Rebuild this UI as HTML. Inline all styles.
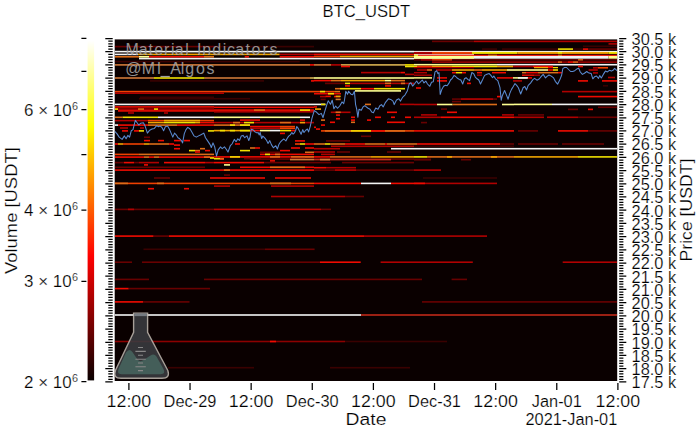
<!DOCTYPE html><html><head><meta charset="utf-8"><style>html,body{margin:0;padding:0;background:#fff;width:700px;height:434px;overflow:hidden}svg{display:block}text{font-family:"Liberation Sans",sans-serif;fill:#000;}text.a{stroke:#fff;stroke-width:0.2px}</style></head><body>
<svg width="700" height="434" viewBox="0 0 700 434">
<defs><clipPath id="pc"><rect x="114.70" y="39.40" width="502.50" height="341.60"/></clipPath>
<linearGradient id="hot" x1="0" y1="1" x2="0" y2="0"><stop offset="0" stop-color="#0a0000"/><stop offset="0.365" stop-color="#ff0000"/><stop offset="0.746" stop-color="#ffff00"/><stop offset="1" stop-color="#ffffff"/></linearGradient></defs>
<rect x="114.7" y="39.4" width="502.50" height="341.60" fill="#0a0000"/>
<g clip-path="url(#pc)" shape-rendering="auto">
<rect x="114.7" y="45.80" width="99.3" height="1.6" fill="#680000"/>
<rect x="114.7" y="50.80" width="99.3" height="1.6" fill="#f4f4f4"/>
<rect x="114.7" y="53.60" width="23.3" height="1.6" fill="#f4f4f4"/>
<rect x="138.0" y="53.60" width="76.0" height="1.6" fill="#f0a400"/>
<rect x="114.7" y="56.00" width="24.3" height="1.6" fill="#dc6c18"/>
<rect x="139.0" y="56.00" width="10.0" height="1.6" fill="#ffff90"/>
<rect x="149.0" y="56.00" width="55.0" height="1.6" fill="#f00a00"/>
<rect x="204.0" y="56.00" width="10.0" height="1.6" fill="#dc6c18"/>
<rect x="139.0" y="57.80" width="75.0" height="1.6" fill="#f4f4f4"/>
<rect x="114.7" y="60.80" width="99.3" height="1.6" fill="#3a0000"/>
<rect x="114.7" y="64.10" width="99.3" height="1.6" fill="#d07838"/>
<rect x="114.7" y="77.20" width="39.3" height="1.6" fill="#d07838"/>
<rect x="154.0" y="77.20" width="50.7" height="1.6" fill="#f0e000"/>
<rect x="204.7" y="77.20" width="9.3" height="1.6" fill="#d07838"/>
<rect x="150.0" y="80.10" width="64.0" height="1.6" fill="#3a0000"/>
<rect x="114.7" y="90.80" width="99.3" height="1.6" fill="#f04000"/>
<rect x="114.7" y="92.40" width="99.3" height="1.6" fill="#b00000"/>
<rect x="140.0" y="96.50" width="74.0" height="1.6" fill="#3a0000"/>
<rect x="214.0" y="45.80" width="100.0" height="1.6" fill="#3a0000"/>
<rect x="214.0" y="50.80" width="100.0" height="1.6" fill="#f4f4f4"/>
<rect x="214.0" y="53.60" width="65.7" height="1.6" fill="#f0a400"/>
<rect x="279.7" y="53.60" width="34.3" height="1.6" fill="#b00000"/>
<rect x="244.7" y="56.00" width="4.3" height="1.6" fill="#f00a00"/>
<rect x="279.7" y="56.00" width="34.3" height="1.6" fill="#f00a00"/>
<rect x="214.0" y="57.80" width="100.0" height="1.6" fill="#f4f4f4"/>
<rect x="214.0" y="60.80" width="85.7" height="1.6" fill="#3a0000"/>
<rect x="214.0" y="64.10" width="96.0" height="1.6" fill="#d07838"/>
<rect x="310.0" y="64.10" width="4.0" height="1.6" fill="#f00a00"/>
<rect x="214.0" y="77.20" width="96.0" height="1.6" fill="#d07838"/>
<rect x="310.0" y="77.20" width="4.0" height="1.6" fill="#d8b050"/>
<rect x="214.0" y="80.10" width="50.0" height="1.6" fill="#3a0000"/>
<rect x="311.0" y="80.10" width="3.0" height="1.6" fill="#f00a00"/>
<rect x="214.0" y="90.80" width="100.0" height="1.6" fill="#f04000"/>
<rect x="214.0" y="92.40" width="10.0" height="1.6" fill="#b00000"/>
<rect x="214.0" y="97.90" width="36.0" height="1.6" fill="#3a0000"/>
<rect x="314.0" y="50.80" width="100.0" height="1.6" fill="#f4f4f4"/>
<rect x="314.0" y="53.60" width="100.0" height="1.6" fill="#f00a00"/>
<rect x="314.0" y="55.70" width="26.0" height="1.6" fill="#f04000"/>
<rect x="340.0" y="55.70" width="74.0" height="1.6" fill="#f0a400"/>
<rect x="314.0" y="57.80" width="100.0" height="1.6" fill="#f4f4f4"/>
<rect x="314.0" y="64.10" width="17.0" height="1.6" fill="#d07838"/>
<rect x="331.0" y="64.10" width="10.0" height="1.6" fill="#b00000"/>
<rect x="341.0" y="64.10" width="64.0" height="1.6" fill="#d8b050"/>
<rect x="405.0" y="64.10" width="9.0" height="1.6" fill="#f0e000"/>
<rect x="341.0" y="65.70" width="9.0" height="1.6" fill="#f00a00"/>
<rect x="405.0" y="65.70" width="9.0" height="1.6" fill="#f0e000"/>
<rect x="361.0" y="71.80" width="40.0" height="1.6" fill="#b00000"/>
<rect x="401.0" y="71.80" width="4.0" height="1.6" fill="#f00a00"/>
<rect x="405.0" y="73.60" width="9.0" height="1.6" fill="#b00000"/>
<rect x="314.0" y="77.20" width="100.0" height="1.6" fill="#ffff90"/>
<rect x="314.0" y="79.80" width="17.0" height="1.6" fill="#f00a00"/>
<rect x="331.0" y="79.80" width="10.0" height="1.6" fill="#dc6c18"/>
<rect x="341.0" y="79.80" width="44.0" height="1.6" fill="#f0a400"/>
<rect x="385.0" y="79.80" width="6.0" height="1.6" fill="#ffff90"/>
<rect x="391.0" y="79.80" width="14.0" height="1.6" fill="#dc6c18"/>
<rect x="325.0" y="82.60" width="20.0" height="1.6" fill="#680000"/>
<rect x="345.0" y="82.60" width="5.0" height="1.6" fill="#f0e000"/>
<rect x="350.0" y="82.60" width="64.0" height="1.6" fill="#b00000"/>
<rect x="385.0" y="82.60" width="6.0" height="1.6" fill="#dc6c18"/>
<rect x="401.0" y="82.60" width="4.0" height="1.6" fill="#dc6c18"/>
<rect x="345.0" y="85.10" width="5.0" height="1.6" fill="#f00a00"/>
<rect x="385.0" y="85.10" width="6.0" height="1.6" fill="#f00a00"/>
<rect x="335.0" y="87.90" width="5.0" height="1.6" fill="#dc6c18"/>
<rect x="340.0" y="87.90" width="21.0" height="1.6" fill="#f0e000"/>
<rect x="361.0" y="87.90" width="13.0" height="1.6" fill="#f00a00"/>
<rect x="374.0" y="87.90" width="31.0" height="1.6" fill="#f0e000"/>
<rect x="355.0" y="90.10" width="46.0" height="1.6" fill="#ffff90"/>
<rect x="314.0" y="90.80" width="21.0" height="1.6" fill="#f04000"/>
<rect x="320.0" y="90.80" width="5.0" height="1.6" fill="#f0e000"/>
<rect x="335.0" y="90.80" width="5.0" height="1.6" fill="#dc6c18"/>
<rect x="314.0" y="92.90" width="27.0" height="1.6" fill="#f00a00"/>
<rect x="328.0" y="92.90" width="6.0" height="1.6" fill="#f0e000"/>
<rect x="320.0" y="95.80" width="6.0" height="1.6" fill="#b00000"/>
<rect x="334.0" y="95.80" width="6.0" height="1.6" fill="#f00a00"/>
<rect x="432.0" y="40.60" width="42.0" height="1.6" fill="#680000"/>
<rect x="474.0" y="40.60" width="143.2" height="1.6" fill="#b00000"/>
<rect x="608.5" y="43.10" width="8.5" height="1.6" fill="#b00000"/>
<rect x="583.0" y="45.50" width="34.0" height="1.6" fill="#3a0000"/>
<rect x="482.0" y="48.30" width="15.0" height="1.6" fill="#3a0000"/>
<rect x="502.0" y="48.30" width="32.0" height="1.6" fill="#3a0000"/>
<rect x="534.0" y="48.30" width="24.0" height="1.6" fill="#3a0000"/>
<rect x="558.0" y="48.30" width="15.0" height="1.6" fill="#f0e000"/>
<rect x="573.0" y="48.30" width="10.0" height="1.6" fill="#3a0000"/>
<rect x="583.0" y="48.30" width="5.0" height="1.6" fill="#f00a00"/>
<rect x="588.0" y="48.30" width="29.0" height="1.6" fill="#680000"/>
<rect x="414.0" y="50.90" width="203.2" height="1.2" fill="#f4f4f4"/>
<rect x="414.0" y="51.90" width="18.0" height="2.0" fill="#b00000"/>
<rect x="432.0" y="51.90" width="40.0" height="2.0" fill="#f04000"/>
<rect x="472.0" y="51.90" width="2.0" height="2.0" fill="#f0e000"/>
<rect x="474.0" y="51.90" width="43.3" height="2.0" fill="#f0e000"/>
<rect x="517.3" y="51.90" width="40.7" height="2.0" fill="#f0a400"/>
<rect x="558.0" y="51.90" width="4.0" height="2.0" fill="#f0e000"/>
<rect x="562.0" y="51.90" width="46.5" height="2.0" fill="#f0a400"/>
<rect x="608.5" y="51.90" width="8.7" height="2.0" fill="#f0e000"/>
<rect x="414.0" y="54.10" width="60.0" height="1.0" fill="#f4f4f4"/>
<rect x="414.0" y="54.70" width="4.0" height="1.6" fill="#f0e000"/>
<rect x="418.0" y="54.70" width="199.2" height="1.6" fill="#f00a00"/>
<rect x="488.0" y="54.70" width="9.0" height="1.6" fill="#dc6c18"/>
<rect x="558.0" y="54.70" width="4.0" height="1.6" fill="#dc6c18"/>
<rect x="414.0" y="55.90" width="194.5" height="2.8" fill="#f4f4f4"/>
<rect x="608.5" y="55.90" width="8.7" height="2.8" fill="#ffff90"/>
<rect x="414.0" y="55.90" width="60.0" height="2.8" fill="#ffff90"/>
<rect x="414.0" y="59.10" width="203.2" height="1.4" fill="#680000"/>
<rect x="421.0" y="59.10" width="11.0" height="1.4" fill="#b00000"/>
<rect x="432.0" y="59.10" width="20.0" height="1.4" fill="#f04000"/>
<rect x="578.0" y="59.10" width="5.0" height="1.4" fill="#dc6c18"/>
<rect x="432.0" y="61.40" width="185.2" height="1.4" fill="#b00000"/>
<rect x="558.0" y="61.40" width="4.0" height="1.4" fill="#dc6c18"/>
<rect x="568.0" y="61.40" width="5.0" height="1.4" fill="#f00a00"/>
<rect x="573.0" y="61.40" width="5.0" height="1.4" fill="#dc6c18"/>
<rect x="414.0" y="63.90" width="83.0" height="1.6" fill="#ffff90"/>
<rect x="497.0" y="63.90" width="120.2" height="1.6" fill="#f4f4f4"/>
<rect x="414.0" y="65.70" width="3.0" height="1.6" fill="#f0e000"/>
<rect x="417.0" y="65.70" width="15.0" height="1.6" fill="#f04000"/>
<rect x="432.0" y="65.70" width="20.0" height="1.6" fill="#f0a400"/>
<rect x="452.0" y="65.70" width="45.0" height="1.6" fill="#f0e000"/>
<rect x="497.0" y="65.70" width="16.0" height="1.6" fill="#f0a400"/>
<rect x="513.0" y="65.70" width="20.0" height="1.6" fill="#b00000"/>
<rect x="533.0" y="65.70" width="15.0" height="1.6" fill="#f00a00"/>
<rect x="548.0" y="65.70" width="5.0" height="1.6" fill="#f00a00"/>
<rect x="578.0" y="65.70" width="5.0" height="1.6" fill="#f00a00"/>
<rect x="414.0" y="66.95" width="60.0" height="1.3" fill="#b00000"/>
<rect x="534.0" y="66.95" width="14.0" height="1.3" fill="#f0a400"/>
<rect x="548.0" y="66.95" width="5.0" height="1.3" fill="#f00a00"/>
<rect x="553.0" y="66.95" width="5.0" height="1.3" fill="#f0e000"/>
<rect x="417.0" y="69.20" width="10.0" height="1.6" fill="#b00000"/>
<rect x="427.0" y="69.20" width="5.0" height="1.6" fill="#dc6c18"/>
<rect x="436.0" y="69.20" width="16.0" height="1.6" fill="#b00000"/>
<rect x="452.0" y="69.20" width="22.0" height="1.6" fill="#f0a400"/>
<rect x="474.0" y="69.20" width="8.0" height="1.6" fill="#dc6c18"/>
<rect x="482.0" y="69.20" width="25.0" height="1.6" fill="#f0a400"/>
<rect x="507.0" y="69.20" width="27.0" height="1.6" fill="#ffff90"/>
<rect x="534.0" y="69.20" width="14.0" height="1.6" fill="#ffff90"/>
<rect x="548.0" y="69.20" width="5.0" height="1.6" fill="#f00a00"/>
<rect x="553.0" y="69.20" width="5.0" height="1.6" fill="#f0e000"/>
<rect x="588.6" y="69.20" width="9.2" height="1.6" fill="#b00000"/>
<rect x="414.0" y="71.95" width="13.0" height="1.5" fill="#b00000"/>
<rect x="452.0" y="71.95" width="4.0" height="1.5" fill="#f00a00"/>
<rect x="456.0" y="71.95" width="6.0" height="1.5" fill="#f0e000"/>
<rect x="462.0" y="71.95" width="4.0" height="1.5" fill="#f00a00"/>
<rect x="477.0" y="71.95" width="5.0" height="1.5" fill="#f00a00"/>
<rect x="492.0" y="71.95" width="14.0" height="1.5" fill="#f00a00"/>
<rect x="522.0" y="71.95" width="4.0" height="1.5" fill="#dc6c18"/>
<rect x="526.0" y="71.95" width="12.0" height="1.5" fill="#f00a00"/>
<rect x="538.0" y="71.95" width="10.0" height="1.5" fill="#dc6c18"/>
<rect x="548.0" y="71.95" width="10.0" height="1.5" fill="#dc6c18"/>
<rect x="558.0" y="71.95" width="4.0" height="1.5" fill="#f00a00"/>
<rect x="414.0" y="74.50" width="18.0" height="1.4" fill="#b00000"/>
<rect x="477.0" y="74.50" width="5.0" height="1.4" fill="#b00000"/>
<rect x="522.0" y="74.50" width="12.0" height="1.4" fill="#f00a00"/>
<rect x="534.0" y="74.50" width="6.0" height="1.4" fill="#b00000"/>
<rect x="593.0" y="72.10" width="5.0" height="1.6" fill="#b00000"/>
<rect x="593.0" y="67.00" width="5.0" height="1.6" fill="#b00000"/>
<rect x="598.0" y="67.00" width="10.0" height="1.6" fill="#f04000"/>
<rect x="608.0" y="76.70" width="7.0" height="1.6" fill="#b00000"/>
<rect x="414.0" y="77.15" width="18.0" height="1.5" fill="#ffff90"/>
<rect x="437.0" y="77.15" width="10.0" height="1.5" fill="#f00a00"/>
<rect x="497.0" y="77.15" width="16.0" height="1.5" fill="#f00a00"/>
<rect x="513.0" y="77.15" width="14.0" height="1.5" fill="#ffff90"/>
<rect x="527.0" y="77.15" width="5.0" height="1.5" fill="#f00a00"/>
<rect x="518.0" y="77.15" width="10.0" height="1.5" fill="#f4f4f4"/>
<rect x="437.0" y="80.10" width="10.0" height="1.6" fill="#f00a00"/>
<rect x="513.0" y="80.10" width="9.0" height="1.6" fill="#b00000"/>
<rect x="578.0" y="80.10" width="10.0" height="1.6" fill="#f00a00"/>
<rect x="602.0" y="80.10" width="15.2" height="1.6" fill="#f00a00"/>
<rect x="467.0" y="82.60" width="4.0" height="1.6" fill="#f00a00"/>
<rect x="603.0" y="85.00" width="5.0" height="1.6" fill="#3a0000"/>
<rect x="416.0" y="87.20" width="5.0" height="1.6" fill="#f00a00"/>
<rect x="562.0" y="90.80" width="55.2" height="1.6" fill="#b00000"/>
<rect x="497.0" y="95.80" width="4.0" height="1.6" fill="#f00a00"/>
<rect x="578.0" y="95.80" width="39.2" height="1.6" fill="#f00a00"/>
<rect x="139.0" y="97.90" width="75.0" height="1.6" fill="#3a0000"/>
<rect x="114.7" y="103.60" width="99.3" height="1.6" fill="#f4f4f4"/>
<rect x="114.7" y="106.10" width="99.3" height="1.6" fill="#f00a00"/>
<rect x="114.7" y="108.30" width="99.3" height="1.6" fill="#b00000"/>
<rect x="114.7" y="108.30" width="3.3" height="1.6" fill="#f0e000"/>
<rect x="138.0" y="108.30" width="6.0" height="1.6" fill="#dc6c18"/>
<rect x="154.0" y="108.30" width="4.0" height="1.6" fill="#f0e000"/>
<rect x="118.0" y="110.10" width="96.0" height="1.6" fill="#f00a00"/>
<rect x="128.0" y="112.20" width="6.0" height="1.6" fill="#b00000"/>
<rect x="164.0" y="112.20" width="4.0" height="1.6" fill="#b00000"/>
<rect x="114.7" y="116.50" width="7.9" height="1.6" fill="#dc6c18"/>
<rect x="122.6" y="116.50" width="35.4" height="1.6" fill="#f0e000"/>
<rect x="158.0" y="116.50" width="56.0" height="1.6" fill="#f4f4f4"/>
<rect x="114.7" y="119.80" width="33.3" height="1.6" fill="#b00000"/>
<rect x="148.0" y="119.80" width="66.0" height="1.6" fill="#f04000"/>
<rect x="164.0" y="119.80" width="36.0" height="1.6" fill="#f0a400"/>
<rect x="148.0" y="121.80" width="16.0" height="1.6" fill="#f0a400"/>
<rect x="164.0" y="121.80" width="31.0" height="1.6" fill="#f0e000"/>
<rect x="195.0" y="121.80" width="5.0" height="1.6" fill="#f0a400"/>
<rect x="200.0" y="121.80" width="14.0" height="1.6" fill="#f00a00"/>
<rect x="114.7" y="124.30" width="3.3" height="1.6" fill="#f4f4f4"/>
<rect x="118.0" y="124.30" width="30.0" height="1.6" fill="#f00a00"/>
<rect x="148.0" y="124.30" width="29.0" height="1.6" fill="#dc6c18"/>
<rect x="177.0" y="124.30" width="37.0" height="1.6" fill="#f00a00"/>
<rect x="120.0" y="127.20" width="8.0" height="1.6" fill="#b00000"/>
<rect x="140.0" y="127.20" width="4.0" height="1.6" fill="#b00000"/>
<rect x="122.0" y="130.10" width="6.0" height="1.6" fill="#f00a00"/>
<rect x="134.0" y="130.10" width="5.0" height="1.6" fill="#f00a00"/>
<rect x="139.0" y="130.10" width="5.0" height="1.6" fill="#f0e000"/>
<rect x="208.0" y="130.10" width="6.0" height="1.6" fill="#f0e000"/>
<rect x="144.0" y="136.50" width="6.0" height="1.6" fill="#680000"/>
<rect x="144.0" y="139.80" width="6.0" height="1.6" fill="#f00a00"/>
<rect x="158.0" y="139.80" width="6.0" height="1.6" fill="#f00a00"/>
<rect x="174.0" y="139.80" width="7.0" height="1.6" fill="#f00a00"/>
<rect x="184.0" y="139.80" width="6.0" height="1.6" fill="#f00a00"/>
<rect x="114.7" y="143.20" width="3.3" height="1.6" fill="#f00a00"/>
<rect x="118.0" y="143.20" width="5.0" height="1.6" fill="#f0a400"/>
<rect x="123.0" y="143.20" width="21.0" height="1.6" fill="#f04000"/>
<rect x="144.0" y="143.20" width="5.0" height="1.6" fill="#f0a400"/>
<rect x="149.0" y="143.20" width="20.0" height="1.6" fill="#dc6c18"/>
<rect x="169.0" y="143.20" width="5.0" height="1.6" fill="#f00a00"/>
<rect x="174.0" y="144.30" width="6.0" height="1.6" fill="#f00a00"/>
<rect x="174.0" y="147.90" width="6.0" height="1.6" fill="#f00a00"/>
<rect x="200.0" y="147.90" width="5.0" height="1.6" fill="#dc6c18"/>
<rect x="189.0" y="149.80" width="6.0" height="1.6" fill="#f0e000"/>
<rect x="195.0" y="149.80" width="5.0" height="1.6" fill="#dc6c18"/>
<rect x="205.0" y="149.80" width="5.0" height="1.6" fill="#f00a00"/>
<rect x="195.0" y="151.20" width="5.0" height="1.6" fill="#f00a00"/>
<rect x="114.7" y="153.60" width="24.3" height="1.6" fill="#f04000"/>
<rect x="139.0" y="153.60" width="75.0" height="1.6" fill="#dc6c18"/>
<rect x="114.7" y="156.30" width="29.3" height="1.6" fill="#f00a00"/>
<rect x="144.0" y="156.30" width="5.0" height="1.6" fill="#dc6c18"/>
<rect x="149.0" y="156.30" width="5.0" height="1.6" fill="#f00a00"/>
<rect x="154.0" y="156.30" width="5.0" height="1.6" fill="#dc6c18"/>
<rect x="159.0" y="156.30" width="55.0" height="1.6" fill="#f00a00"/>
<rect x="204.0" y="156.30" width="6.0" height="1.6" fill="#dc6c18"/>
<rect x="210.0" y="157.20" width="4.0" height="1.6" fill="#f0e000"/>
<rect x="214.0" y="103.60" width="100.0" height="1.6" fill="#f4f4f4"/>
<rect x="214.0" y="106.50" width="100.0" height="1.6" fill="#f00a00"/>
<rect x="214.0" y="109.30" width="100.0" height="1.6" fill="#f00a00"/>
<rect x="254.0" y="109.30" width="11.0" height="1.6" fill="#dc6c18"/>
<rect x="300.0" y="109.30" width="10.0" height="1.6" fill="#f0e000"/>
<rect x="214.0" y="111.00" width="100.0" height="1.6" fill="#b00000"/>
<rect x="214.0" y="116.50" width="36.0" height="1.6" fill="#ffff90"/>
<rect x="250.0" y="116.50" width="10.0" height="1.6" fill="#f4f4f4"/>
<rect x="260.0" y="116.50" width="40.0" height="1.6" fill="#ffff90"/>
<rect x="300.0" y="116.50" width="10.0" height="1.6" fill="#f4f4f4"/>
<rect x="240.0" y="119.30" width="20.0" height="1.6" fill="#f00a00"/>
<rect x="300.0" y="119.30" width="5.0" height="1.6" fill="#f00a00"/>
<rect x="214.0" y="121.80" width="100.0" height="1.6" fill="#b00000"/>
<rect x="233.0" y="121.80" width="7.0" height="1.6" fill="#dc6c18"/>
<rect x="244.0" y="121.80" width="10.0" height="1.6" fill="#f0e000"/>
<rect x="280.0" y="121.80" width="11.0" height="1.6" fill="#dc6c18"/>
<rect x="300.0" y="121.80" width="5.0" height="1.6" fill="#f0a400"/>
<rect x="214.0" y="124.30" width="36.0" height="1.6" fill="#dc6c18"/>
<rect x="230.0" y="124.30" width="5.0" height="1.6" fill="#f0e000"/>
<rect x="240.0" y="124.30" width="10.0" height="1.6" fill="#f0e000"/>
<rect x="250.0" y="125.80" width="30.0" height="1.6" fill="#f00a00"/>
<rect x="280.0" y="125.80" width="15.0" height="1.6" fill="#f04000"/>
<rect x="250.0" y="127.50" width="30.0" height="1.6" fill="#b00000"/>
<rect x="280.0" y="127.50" width="15.0" height="1.6" fill="#f04000"/>
<rect x="214.0" y="129.80" width="36.0" height="1.6" fill="#f0a400"/>
<rect x="220.0" y="129.80" width="5.0" height="1.6" fill="#f0e000"/>
<rect x="230.0" y="129.80" width="5.0" height="1.6" fill="#f0e000"/>
<rect x="240.0" y="129.80" width="10.0" height="1.6" fill="#f0e000"/>
<rect x="250.0" y="129.80" width="10.0" height="1.6" fill="#f00a00"/>
<rect x="260.0" y="129.80" width="10.0" height="1.6" fill="#ffff90"/>
<rect x="270.0" y="129.80" width="10.0" height="1.6" fill="#f4f4f4"/>
<rect x="280.0" y="129.80" width="11.0" height="1.6" fill="#f0e000"/>
<rect x="291.0" y="129.80" width="4.0" height="1.6" fill="#f00a00"/>
<rect x="280.0" y="132.60" width="5.0" height="1.6" fill="#f00a00"/>
<rect x="295.0" y="140.10" width="10.0" height="1.6" fill="#f00a00"/>
<rect x="235.0" y="143.20" width="5.0" height="1.6" fill="#f00a00"/>
<rect x="295.0" y="143.20" width="5.0" height="1.6" fill="#f04000"/>
<rect x="300.0" y="143.20" width="5.0" height="1.6" fill="#f0e000"/>
<rect x="305.0" y="143.20" width="9.0" height="1.6" fill="#f00a00"/>
<rect x="250.0" y="147.20" width="5.0" height="1.6" fill="#dc6c18"/>
<rect x="255.0" y="147.20" width="5.0" height="1.6" fill="#f00a00"/>
<rect x="291.0" y="147.20" width="9.0" height="1.6" fill="#f00a00"/>
<rect x="305.0" y="147.20" width="9.0" height="1.6" fill="#f00a00"/>
<rect x="240.0" y="149.80" width="10.0" height="1.6" fill="#f0e000"/>
<rect x="280.0" y="149.80" width="10.0" height="1.6" fill="#f00a00"/>
<rect x="260.0" y="151.50" width="20.0" height="1.6" fill="#680000"/>
<rect x="305.0" y="151.50" width="9.0" height="1.6" fill="#dc6c18"/>
<rect x="260.0" y="153.60" width="54.0" height="1.6" fill="#f00a00"/>
<rect x="265.0" y="153.60" width="5.0" height="1.6" fill="#f0e000"/>
<rect x="275.0" y="153.60" width="5.0" height="1.6" fill="#dc6c18"/>
<rect x="214.0" y="156.10" width="100.0" height="1.6" fill="#f00a00"/>
<rect x="230.0" y="156.10" width="10.0" height="1.6" fill="#f0e000"/>
<rect x="270.0" y="156.10" width="10.0" height="1.6" fill="#dc6c18"/>
<rect x="291.0" y="156.10" width="23.0" height="1.6" fill="#dc6c18"/>
<rect x="220.0" y="158.30" width="4.0" height="1.6" fill="#f00a00"/>
<rect x="250.0" y="158.30" width="64.0" height="1.6" fill="#680000"/>
<rect x="325.7" y="95.60" width="5.1" height="1.6" fill="#f00a00"/>
<rect x="335.6" y="95.60" width="5.1" height="1.6" fill="#f0a400"/>
<rect x="320.6" y="98.60" width="5.1" height="1.6" fill="#680000"/>
<rect x="335.6" y="98.60" width="5.1" height="1.6" fill="#d07838"/>
<rect x="314.0" y="103.60" width="11.4" height="1.6" fill="#f4f4f4"/>
<rect x="321.0" y="103.60" width="4.4" height="1.6" fill="#f0e000"/>
<rect x="365.0" y="103.60" width="6.0" height="1.6" fill="#dc6c18"/>
<rect x="400.0" y="103.60" width="14.0" height="1.6" fill="#b00000"/>
<rect x="314.0" y="106.10" width="3.0" height="1.6" fill="#f00a00"/>
<rect x="315.0" y="108.30" width="6.0" height="1.6" fill="#f0a400"/>
<rect x="330.8" y="111.50" width="19.7" height="1.6" fill="#b00000"/>
<rect x="335.6" y="111.50" width="5.1" height="1.6" fill="#dc6c18"/>
<rect x="387.0" y="111.50" width="10.0" height="1.6" fill="#f00a00"/>
<rect x="336.0" y="114.30" width="4.0" height="1.6" fill="#f00a00"/>
<rect x="351.0" y="116.50" width="4.0" height="1.6" fill="#f00a00"/>
<rect x="375.0" y="116.50" width="6.0" height="1.6" fill="#f00a00"/>
<rect x="391.0" y="116.50" width="4.0" height="1.6" fill="#f00a00"/>
<rect x="405.0" y="116.50" width="6.0" height="1.6" fill="#f00a00"/>
<rect x="336.0" y="117.90" width="4.0" height="1.6" fill="#f00a00"/>
<rect x="321.0" y="119.30" width="4.0" height="1.6" fill="#dc6c18"/>
<rect x="351.0" y="119.30" width="4.0" height="1.6" fill="#f00a00"/>
<rect x="367.0" y="119.30" width="4.0" height="1.6" fill="#f00a00"/>
<rect x="330.0" y="121.50" width="5.0" height="1.6" fill="#f00a00"/>
<rect x="351.0" y="121.50" width="4.0" height="1.6" fill="#dc6c18"/>
<rect x="387.0" y="121.50" width="18.0" height="1.6" fill="#f00a00"/>
<rect x="321.0" y="124.30" width="4.0" height="1.6" fill="#f00a00"/>
<rect x="314.0" y="126.50" width="2.0" height="1.6" fill="#f00a00"/>
<rect x="316.0" y="128.30" width="4.0" height="1.6" fill="#f00a00"/>
<rect x="321.0" y="130.10" width="93.0" height="1.6" fill="#f04000"/>
<rect x="325.0" y="130.10" width="26.0" height="1.6" fill="#dc6c18"/>
<rect x="351.0" y="130.10" width="20.0" height="1.6" fill="#f0e000"/>
<rect x="371.0" y="130.10" width="14.0" height="1.6" fill="#f00a00"/>
<rect x="385.0" y="130.10" width="20.0" height="1.6" fill="#dc6c18"/>
<rect x="361.0" y="135.50" width="10.0" height="1.6" fill="#680000"/>
<rect x="326.0" y="140.10" width="24.0" height="1.6" fill="#680000"/>
<rect x="314.0" y="143.20" width="11.0" height="1.6" fill="#dc6c18"/>
<rect x="325.0" y="143.20" width="5.0" height="1.6" fill="#f0e000"/>
<rect x="330.0" y="143.20" width="15.0" height="1.6" fill="#dc6c18"/>
<rect x="345.0" y="143.20" width="20.0" height="1.6" fill="#f00a00"/>
<rect x="365.0" y="143.20" width="20.0" height="1.6" fill="#dc6c18"/>
<rect x="385.0" y="143.20" width="2.0" height="1.6" fill="#f00a00"/>
<rect x="387.0" y="143.20" width="27.0" height="1.6" fill="#dc6c18"/>
<rect x="331.0" y="145.50" width="83.0" height="1.6" fill="#b00000"/>
<rect x="314.0" y="147.90" width="26.0" height="1.6" fill="#b00000"/>
<rect x="391.0" y="147.90" width="23.0" height="1.6" fill="#f4f4f4"/>
<rect x="314.0" y="151.20" width="21.0" height="1.6" fill="#b00000"/>
<rect x="337.0" y="151.20" width="13.0" height="1.6" fill="#680000"/>
<rect x="387.0" y="151.20" width="14.0" height="1.6" fill="#680000"/>
<rect x="321.0" y="153.60" width="14.0" height="1.6" fill="#b00000"/>
<rect x="314.0" y="156.10" width="16.0" height="1.6" fill="#f00a00"/>
<rect x="330.0" y="156.10" width="41.0" height="1.6" fill="#dc6c18"/>
<rect x="371.0" y="156.10" width="43.0" height="1.6" fill="#f0a400"/>
<rect x="314.0" y="158.30" width="100.0" height="1.6" fill="#680000"/>
<rect x="452.0" y="98.30" width="45.0" height="1.6" fill="#680000"/>
<rect x="461.0" y="98.30" width="32.0" height="1.6" fill="#b00000"/>
<rect x="452.0" y="100.80" width="9.0" height="1.6" fill="#680000"/>
<rect x="414.0" y="103.70" width="23.0" height="1.6" fill="#b00000"/>
<rect x="437.0" y="103.70" width="15.6" height="1.6" fill="#ffff90"/>
<rect x="452.6" y="103.70" width="38.4" height="1.6" fill="#dc6c18"/>
<rect x="491.0" y="103.70" width="6.0" height="1.6" fill="#dc6c18"/>
<rect x="502.0" y="103.70" width="12.0" height="1.6" fill="#ffff90"/>
<rect x="441.0" y="108.30" width="6.0" height="1.6" fill="#680000"/>
<rect x="447.0" y="111.50" width="10.0" height="1.6" fill="#f00a00"/>
<rect x="421.0" y="114.10" width="16.0" height="1.6" fill="#b00000"/>
<rect x="502.0" y="114.10" width="12.0" height="1.6" fill="#b00000"/>
<rect x="414.0" y="116.50" width="27.0" height="1.6" fill="#b00000"/>
<rect x="441.0" y="116.50" width="73.0" height="1.6" fill="#f00a00"/>
<rect x="421.0" y="121.80" width="6.0" height="1.6" fill="#680000"/>
<rect x="414.0" y="130.10" width="100.0" height="1.6" fill="#f00a00"/>
<rect x="414.0" y="143.20" width="3.0" height="1.6" fill="#dc6c18"/>
<rect x="417.0" y="143.20" width="83.0" height="1.6" fill="#f00a00"/>
<rect x="500.0" y="143.20" width="14.0" height="1.6" fill="#680000"/>
<rect x="414.0" y="145.50" width="100.0" height="1.6" fill="#3a0000"/>
<rect x="414.0" y="147.90" width="100.0" height="1.6" fill="#f4f4f4"/>
<rect x="414.0" y="156.10" width="13.0" height="1.6" fill="#f0e000"/>
<rect x="427.0" y="156.10" width="87.0" height="1.6" fill="#dc6c18"/>
<rect x="447.0" y="156.10" width="5.0" height="1.6" fill="#f0a400"/>
<rect x="491.0" y="156.10" width="6.0" height="1.6" fill="#f0a400"/>
<rect x="414.0" y="158.60" width="17.0" height="1.6" fill="#680000"/>
<rect x="514.0" y="103.60" width="38.0" height="1.6" fill="#ffff90"/>
<rect x="552.0" y="103.60" width="65.2" height="1.6" fill="#f4f4f4"/>
<rect x="598.0" y="106.50" width="19.2" height="1.6" fill="#680000"/>
<rect x="568.0" y="108.60" width="10.0" height="1.6" fill="#680000"/>
<rect x="588.0" y="108.60" width="5.0" height="1.6" fill="#f00a00"/>
<rect x="518.0" y="114.10" width="26.0" height="1.6" fill="#680000"/>
<rect x="514.0" y="116.50" width="30.0" height="1.6" fill="#b00000"/>
<rect x="547.0" y="116.50" width="31.0" height="1.6" fill="#b00000"/>
<rect x="578.0" y="116.50" width="39.2" height="1.6" fill="#680000"/>
<rect x="518.0" y="130.10" width="20.0" height="1.6" fill="#680000"/>
<rect x="558.0" y="130.10" width="30.0" height="1.6" fill="#f00a00"/>
<rect x="588.0" y="130.10" width="29.2" height="1.6" fill="#680000"/>
<rect x="518.0" y="143.20" width="40.0" height="1.6" fill="#680000"/>
<rect x="562.0" y="143.20" width="42.0" height="1.6" fill="#680000"/>
<rect x="514.0" y="147.90" width="103.2" height="1.6" fill="#f4f4f4"/>
<rect x="514.0" y="156.10" width="64.0" height="1.6" fill="#f0a400"/>
<rect x="578.0" y="156.10" width="39.2" height="1.6" fill="#f0e000"/>
<rect x="114.7" y="161.80" width="9.3" height="1.6" fill="#680000"/>
<rect x="124.0" y="161.80" width="10.0" height="1.6" fill="#f00a00"/>
<rect x="134.0" y="161.80" width="5.0" height="1.6" fill="#680000"/>
<rect x="139.0" y="161.80" width="20.0" height="1.6" fill="#b00000"/>
<rect x="164.0" y="161.80" width="41.0" height="1.6" fill="#f00a00"/>
<rect x="205.0" y="161.80" width="9.0" height="1.6" fill="#b00000"/>
<rect x="144.0" y="164.10" width="4.0" height="1.6" fill="#f00a00"/>
<rect x="114.7" y="166.50" width="90.3" height="1.6" fill="#680000"/>
<rect x="114.7" y="169.30" width="99.3" height="1.6" fill="#f00a00"/>
<rect x="154.0" y="177.20" width="16.0" height="1.6" fill="#680000"/>
<rect x="210.0" y="177.20" width="4.0" height="1.6" fill="#f00a00"/>
<rect x="114.7" y="182.60" width="99.3" height="1.6" fill="#f04000"/>
<rect x="114.7" y="182.60" width="13.3" height="1.6" fill="#dc6c18"/>
<rect x="157.0" y="182.60" width="7.0" height="1.6" fill="#dc6c18"/>
<rect x="148.0" y="187.90" width="6.0" height="1.6" fill="#f00a00"/>
<rect x="184.0" y="187.90" width="5.0" height="1.6" fill="#f00a00"/>
<rect x="114.7" y="208.60" width="99.3" height="1.6" fill="#680000"/>
<rect x="128.0" y="208.60" width="6.0" height="1.6" fill="#b00000"/>
<rect x="214.0" y="157.90" width="6.0" height="1.6" fill="#f0e000"/>
<rect x="220.0" y="157.90" width="4.0" height="1.6" fill="#dc6c18"/>
<rect x="244.0" y="157.90" width="17.0" height="1.6" fill="#680000"/>
<rect x="290.0" y="157.90" width="15.0" height="1.6" fill="#680000"/>
<rect x="270.0" y="160.10" width="5.0" height="1.6" fill="#f00a00"/>
<rect x="214.0" y="161.80" width="50.0" height="1.6" fill="#f00a00"/>
<rect x="264.0" y="161.80" width="50.0" height="1.6" fill="#680000"/>
<rect x="224.0" y="164.10" width="6.0" height="1.6" fill="#ffff90"/>
<rect x="240.0" y="166.50" width="74.0" height="1.6" fill="#f00a00"/>
<rect x="270.0" y="166.50" width="35.0" height="1.6" fill="#dc6c18"/>
<rect x="214.0" y="169.30" width="100.0" height="1.6" fill="#f00a00"/>
<rect x="224.0" y="169.30" width="6.0" height="1.6" fill="#dc6c18"/>
<rect x="224.0" y="174.30" width="6.0" height="1.6" fill="#680000"/>
<rect x="214.0" y="177.20" width="51.0" height="1.6" fill="#f00a00"/>
<rect x="275.0" y="177.20" width="36.0" height="1.6" fill="#f00a00"/>
<rect x="214.0" y="182.60" width="100.0" height="1.6" fill="#f04000"/>
<rect x="270.0" y="182.60" width="21.0" height="1.6" fill="#dc6c18"/>
<rect x="214.0" y="185.30" width="16.0" height="1.6" fill="#b00000"/>
<rect x="271.0" y="185.30" width="43.0" height="1.6" fill="#b00000"/>
<rect x="271.0" y="195.70" width="74.0" height="1.6" fill="#b00000"/>
<rect x="345.0" y="195.70" width="19.0" height="1.6" fill="#680000"/>
<rect x="214.0" y="208.60" width="107.0" height="1.6" fill="#b00000"/>
<rect x="290.0" y="158.80" width="24.0" height="1.6" fill="#d07838"/>
<rect x="314.0" y="158.80" width="77.0" height="1.6" fill="#c02818"/>
<rect x="320.0" y="158.80" width="10.0" height="1.6" fill="#d07838"/>
<rect x="314.0" y="161.80" width="17.0" height="1.6" fill="#680000"/>
<rect x="342.0" y="161.80" width="72.0" height="1.6" fill="#680000"/>
<rect x="314.0" y="166.90" width="12.0" height="1.6" fill="#f00a00"/>
<rect x="326.0" y="166.90" width="30.0" height="1.6" fill="#b00000"/>
<rect x="314.0" y="169.30" width="100.0" height="1.6" fill="#680000"/>
<rect x="335.0" y="169.30" width="21.0" height="1.6" fill="#b00000"/>
<rect x="314.0" y="182.60" width="47.0" height="1.6" fill="#f00a00"/>
<rect x="361.0" y="182.60" width="30.0" height="1.6" fill="#f4f4f4"/>
<rect x="391.0" y="182.60" width="23.0" height="1.6" fill="#f00a00"/>
<rect x="321.0" y="208.60" width="10.0" height="1.6" fill="#680000"/>
<rect x="414.0" y="158.90" width="17.0" height="1.6" fill="#680000"/>
<rect x="461.0" y="158.90" width="10.0" height="1.6" fill="#680000"/>
<rect x="414.0" y="169.30" width="27.0" height="1.6" fill="#b00000"/>
<rect x="423.0" y="177.20" width="74.0" height="1.6" fill="#3a0000"/>
<rect x="414.0" y="182.60" width="83.0" height="1.6" fill="#b00000"/>
<rect x="414.0" y="182.60" width="11.0" height="1.6" fill="#f00a00"/>
<rect x="114.7" y="235.30" width="38.9" height="1.6" fill="#f00a00"/>
<rect x="153.6" y="235.30" width="15.4" height="1.6" fill="#680000"/>
<rect x="169.0" y="235.30" width="195.0" height="1.6" fill="#f00a00"/>
<rect x="364.0" y="235.30" width="123.0" height="1.6" fill="#b00000"/>
<rect x="143.5" y="248.50" width="121.5" height="1.6" fill="#3a0000"/>
<rect x="265.0" y="248.50" width="49.6" height="1.6" fill="#680000"/>
<rect x="114.7" y="261.40" width="17.3" height="1.6" fill="#680000"/>
<rect x="142.0" y="261.40" width="46.0" height="1.6" fill="#680000"/>
<rect x="188.0" y="261.40" width="132.0" height="1.6" fill="#680000"/>
<rect x="320.0" y="261.40" width="40.7" height="1.6" fill="#f00a00"/>
<rect x="380.6" y="261.40" width="92.2" height="1.6" fill="#b00000"/>
<rect x="562.7" y="261.40" width="54.3" height="1.6" fill="#b00000"/>
<rect x="114.7" y="278.60" width="34.3" height="1.6" fill="#680000"/>
<rect x="204.0" y="278.60" width="160.0" height="1.6" fill="#680000"/>
<rect x="364.0" y="278.60" width="58.0" height="1.6" fill="#680000"/>
<rect x="451.6" y="278.60" width="15.4" height="1.6" fill="#680000"/>
<rect x="114.7" y="287.80" width="14.0" height="1.6" fill="#f00a00"/>
<rect x="128.7" y="287.80" width="81.3" height="1.6" fill="#680000"/>
<rect x="114.7" y="301.10" width="28.3" height="1.6" fill="#f00a00"/>
<rect x="143.0" y="301.10" width="46.5" height="1.6" fill="#680000"/>
<rect x="422.0" y="301.10" width="195.0" height="1.6" fill="#680000"/>
<rect x="114.7" y="314.20" width="246.3" height="1.6" fill="#f4f4f4"/>
<rect x="361.0" y="314.20" width="256.0" height="1.6" fill="#c02818"/>
<rect x="114.7" y="340.70" width="230.3" height="1.6" fill="#8c0000"/>
<rect x="270.0" y="340.70" width="6.0" height="1.6" fill="#f00a00"/>
<rect x="345.0" y="340.70" width="102.0" height="1.6" fill="#3a0000"/>
<rect x="168.0" y="366.90" width="86.0" height="1.6" fill="#3a0000"/>
<rect x="330.0" y="366.90" width="80.0" height="1.6" fill="#3a0000"/>
<polyline points="114.7,131.3 116.9,133.6 119.2,137.1 122.1,139.4 124.4,135.9 126.1,138.8 127.8,135.4 129.6,137.1 131.3,130.7 133.0,129.6 135.3,120.4 137.1,122.7 138.8,125.0 140.5,123.3 143.4,122.7 145.1,126.1 147.4,133.1 149.7,130.2 152.0,129.0 154.3,128.4 156.7,125.6 158.4,126.7 160.1,126.1 161.8,127.3 163.6,130.7 165.3,126.7 167.6,126.1 169.3,129.0 171.1,133.1 172.8,137.1 174.5,133.1 176.2,134.8 178.0,137.7 179.7,138.8 181.4,140.5 182.6,142.9 184.3,133.6 186.0,129.6 187.8,127.3 190.1,129.0 192.4,133.1 194.0,135.9 196.3,137.1 198.6,135.9 200.9,134.8 203.8,133.1 205.5,137.7 207.8,141.1 210.1,144.6 211.3,147.5 213.0,142.9 214.7,146.9 216.5,156.1 218.2,149.8 220.5,146.9 222.2,148.6 224.5,146.9 226.3,149.2 228.0,152.1 230.3,145.7 232.0,144.0 234.3,139.4 236.1,141.7 237.8,138.8 239.5,140.5 241.3,135.9 243.0,135.4 244.7,137.7 247.0,135.9 248.8,140.5 250.0,137.3 251.2,129.3 252.8,129.7 254.8,131.7 256.9,132.9 258.1,132.5 259.3,134.9 260.1,132.5 261.7,138.5 262.9,136.1 264.9,138.1 266.5,140.2 268.1,143.4 269.8,140.6 271.4,144.6 273.4,147.8 274.6,146.6 275.8,145.8 277.4,149.0 279.0,144.2 280.6,141.8 282.3,140.2 283.9,139.0 285.9,141.0 287.1,138.5 288.7,136.1 290.3,134.9 291.9,132.5 293.1,134.1 294.4,132.9 295.6,130.5 296.8,126.5 298.0,128.1 299.2,130.5 301.1,134.2 302.8,129.6 304.0,132.5 305.7,130.2 307.4,129.0 308.6,131.9 310.3,126.1 312.0,118.1 314.3,110.6 316.7,112.3 319.0,114.6 321.3,113.4 323.0,117.5 324.7,111.7 327.0,104.2 328.2,100.8 330.5,104.2 332.2,100.2 333.9,108.8 335.7,106.0 337.4,108.3 339.7,106.0 342.0,101.9 343.7,103.6 344.5,100.0 345.8,91.3 347.5,94.2 348.6,91.3 351.0,94.2 352.7,94.8 354.4,91.3 355.6,104.6 356.7,109.2 357.9,117.3 359.0,109.2 361.3,110.3 363.0,106.9 364.8,105.7 367.7,108.0 370.0,109.2 371.7,112.1 373.4,112.7 375.7,108.0 378.0,109.2 379.8,105.7 381.5,104.6 383.2,106.9 385.5,102.3 388.4,98.8 390.7,99.4 393.0,101.1 394.2,104.6 396.5,100.0 398.8,98.8 400.5,101.1 402.8,97.1 405.1,94.8 407.4,90.7 409.2,83.8 410.9,82.7 412.6,86.1 414.9,83.3 416.7,81.0 418.4,83.8 420.0,82.3 422.3,80.0 424.0,82.9 425.8,81.1 427.5,84.0 429.8,86.3 431.5,82.3 433.3,81.7 435.0,71.9 436.7,70.8 437.9,73.6 439.0,72.5 440.2,94.4 441.9,89.2 443.6,86.3 445.4,85.2 447.1,85.7 448.8,83.4 450.5,80.0 452.3,78.3 454.0,75.4 455.7,76.5 457.5,78.3 459.2,79.4 460.9,80.0 462.7,84.0 464.4,78.8 466.1,77.7 467.8,79.4 469.6,80.6 471.9,72.5 473.6,73.6 475.3,77.1 477.1,78.8 478.8,80.0 480.5,84.0 482.2,80.6 484.6,75.4 486.9,74.2 489.2,73.6 490.9,75.4 492.6,77.7 493.8,76.0 495.5,78.8 497.8,80.6 500.0,87.7 501.2,100.3 502.3,95.7 504.6,90.5 506.3,94.6 508.1,99.2 509.8,93.4 511.5,89.4 513.3,86.5 515.0,83.6 516.7,85.4 518.4,87.7 520.7,94.0 523.1,87.7 524.8,86.5 526.5,90.0 528.2,85.4 530.5,83.1 532.9,79.6 534.6,78.4 536.9,80.2 539.2,79.0 541.5,76.1 543.2,74.4 545.5,77.9 547.3,76.1 549.0,75.0 551.3,76.1 553.6,77.9 555.3,81.3 557.6,84.2 559.9,79.6 561.7,75.0 562.8,68.6 564.6,67.5 566.6,67.5 568.6,69.5 570.6,71.5 572.7,71.5 574.7,70.7 576.7,69.1 578.7,68.3 580.3,72.0 582.4,74.4 584.4,73.2 586.8,71.5 588.4,72.8 590.0,73.2 591.2,73.6 592.8,78.8 594.5,76.8 596.5,76.0 598.5,78.4 599.7,75.6 601.3,78.0 603.3,74.4 605.4,71.1 607.4,71.9 609.4,70.3 611.4,71.1 613.0,70.3 614.6,68.3 617.0,70.7" fill="none" stroke="#5a8ad0" stroke-width="1.05" stroke-linejoin="round"/>
</g>
<text x="125.6 138.7 148.4 154.2 164.1 170.9 174.7 185.2 190.0 196.9 202.2 212.2 222.7 226.9 235.3 245.4 251.4 262.6 269.6" y="55.1" font-size="16" style="fill:#a8a8a8;opacity:.85">Material Indicators</text>
<text x="125.3 141.8 156.7 170.2 180.8 185.3 196.0 206.4" y="73.6" font-size="16" style="fill:#a8a8a8;opacity:.85">@MIAlgos</text>
<rect x="160.5" y="75.9" width="9.3" height="1.3" fill="#b8b8b8" opacity=".85"/>
<g opacity="0.88"><path d="M133.6 313.2 H147.6 V332.4 L167.8 370.5 Q170.4 378.3 162 378.3 H121 Q112.8 378.3 115.4 370.5 L133.6 332.4 Z" fill="#3a3c40" stroke="#bdb5ad" stroke-width="1.4"/><rect x="134.3" y="313.4" width="12.6" height="2.8" fill="#6a7078"/><path d="M118.5 369 L126 352.5 Q129.2 347.6 132.4 352 L137.5 359.5 Q140 362.5 143.5 360 L150.5 355.5 Q154 353 156.5 356.5 L163.5 369 Q166 374.2 160.5 374.2 H121.5 Q116.5 374.2 118.5 369 Z" fill="#4d6b66"/><path d="M138 347.5H143M135.4 351.4H145.8M138 355.3H143M135.4 359.2H145.8M138 363H143M135.4 366.7H145.8M138 370.6H143" stroke="#9a9a9a" stroke-width="1.1"/></g>
<path d="M619.2 381.90H626.3M105.3 381.90H112.7M619.2 379.26H623.4M108.3 379.26H112.7M619.2 376.62H623.4M108.3 376.62H112.7M619.2 373.98H623.4M108.3 373.98H112.7M619.2 371.33H623.4M108.3 371.33H112.7M619.2 368.69H626.3M105.3 368.69H112.7M619.2 366.05H623.4M108.3 366.05H112.7M619.2 363.41H623.4M108.3 363.41H112.7M619.2 360.77H623.4M108.3 360.77H112.7M619.2 358.13H623.4M108.3 358.13H112.7M619.2 355.48H626.3M105.3 355.48H112.7M619.2 352.84H623.4M108.3 352.84H112.7M619.2 350.20H623.4M108.3 350.20H112.7M619.2 347.56H623.4M108.3 347.56H112.7M619.2 344.92H623.4M108.3 344.92H112.7M619.2 342.28H626.3M105.3 342.28H112.7M619.2 339.64H623.4M108.3 339.64H112.7M619.2 336.99H623.4M108.3 336.99H112.7M619.2 334.35H623.4M108.3 334.35H112.7M619.2 331.71H623.4M108.3 331.71H112.7M619.2 329.07H626.3M105.3 329.07H112.7M619.2 326.43H623.4M108.3 326.43H112.7M619.2 323.79H623.4M108.3 323.79H112.7M619.2 321.15H623.4M108.3 321.15H112.7M619.2 318.50H623.4M108.3 318.50H112.7M619.2 315.86H626.3M105.3 315.86H112.7M619.2 313.22H623.4M108.3 313.22H112.7M619.2 310.58H623.4M108.3 310.58H112.7M619.2 307.94H623.4M108.3 307.94H112.7M619.2 305.30H623.4M108.3 305.30H112.7M619.2 302.65H626.3M105.3 302.65H112.7M619.2 300.01H623.4M108.3 300.01H112.7M619.2 297.37H623.4M108.3 297.37H112.7M619.2 294.73H623.4M108.3 294.73H112.7M619.2 292.09H623.4M108.3 292.09H112.7M619.2 289.45H626.3M105.3 289.45H112.7M619.2 286.81H623.4M108.3 286.81H112.7M619.2 284.16H623.4M108.3 284.16H112.7M619.2 281.52H623.4M108.3 281.52H112.7M619.2 278.88H623.4M108.3 278.88H112.7M619.2 276.24H626.3M105.3 276.24H112.7M619.2 273.60H623.4M108.3 273.60H112.7M619.2 270.96H623.4M108.3 270.96H112.7M619.2 268.32H623.4M108.3 268.32H112.7M619.2 265.67H623.4M108.3 265.67H112.7M619.2 263.03H626.3M105.3 263.03H112.7M619.2 260.39H623.4M108.3 260.39H112.7M619.2 257.75H623.4M108.3 257.75H112.7M619.2 255.11H623.4M108.3 255.11H112.7M619.2 252.47H623.4M108.3 252.47H112.7M619.2 249.82H626.3M105.3 249.82H112.7M619.2 247.18H623.4M108.3 247.18H112.7M619.2 244.54H623.4M108.3 244.54H112.7M619.2 241.90H623.4M108.3 241.90H112.7M619.2 239.26H623.4M108.3 239.26H112.7M619.2 236.62H626.3M105.3 236.62H112.7M619.2 233.98H623.4M108.3 233.98H112.7M619.2 231.33H623.4M108.3 231.33H112.7M619.2 228.69H623.4M108.3 228.69H112.7M619.2 226.05H623.4M108.3 226.05H112.7M619.2 223.41H626.3M105.3 223.41H112.7M619.2 220.77H623.4M108.3 220.77H112.7M619.2 218.13H623.4M108.3 218.13H112.7M619.2 215.49H623.4M108.3 215.49H112.7M619.2 212.84H623.4M108.3 212.84H112.7M619.2 210.20H626.3M105.3 210.20H112.7M619.2 207.56H623.4M108.3 207.56H112.7M619.2 204.92H623.4M108.3 204.92H112.7M619.2 202.28H623.4M108.3 202.28H112.7M619.2 199.64H623.4M108.3 199.64H112.7M619.2 196.99H626.3M105.3 196.99H112.7M619.2 194.35H623.4M108.3 194.35H112.7M619.2 191.71H623.4M108.3 191.71H112.7M619.2 189.07H623.4M108.3 189.07H112.7M619.2 186.43H623.4M108.3 186.43H112.7M619.2 183.79H626.3M105.3 183.79H112.7M619.2 181.15H623.4M108.3 181.15H112.7M619.2 178.50H623.4M108.3 178.50H112.7M619.2 175.86H623.4M108.3 175.86H112.7M619.2 173.22H623.4M108.3 173.22H112.7M619.2 170.58H626.3M105.3 170.58H112.7M619.2 167.94H623.4M108.3 167.94H112.7M619.2 165.30H623.4M108.3 165.30H112.7M619.2 162.66H623.4M108.3 162.66H112.7M619.2 160.01H623.4M108.3 160.01H112.7M619.2 157.37H626.3M105.3 157.37H112.7M619.2 154.73H623.4M108.3 154.73H112.7M619.2 152.09H623.4M108.3 152.09H112.7M619.2 149.45H623.4M108.3 149.45H112.7M619.2 146.81H623.4M108.3 146.81H112.7M619.2 144.16H626.3M105.3 144.16H112.7M619.2 141.52H623.4M108.3 141.52H112.7M619.2 138.88H623.4M108.3 138.88H112.7M619.2 136.24H623.4M108.3 136.24H112.7M619.2 133.60H623.4M108.3 133.60H112.7M619.2 130.96H626.3M105.3 130.96H112.7M619.2 128.32H623.4M108.3 128.32H112.7M619.2 125.67H623.4M108.3 125.67H112.7M619.2 123.03H623.4M108.3 123.03H112.7M619.2 120.39H623.4M108.3 120.39H112.7M619.2 117.75H626.3M105.3 117.75H112.7M619.2 115.11H623.4M108.3 115.11H112.7M619.2 112.47H623.4M108.3 112.47H112.7M619.2 109.83H623.4M108.3 109.83H112.7M619.2 107.18H623.4M108.3 107.18H112.7M619.2 104.54H626.3M105.3 104.54H112.7M619.2 101.90H623.4M108.3 101.90H112.7M619.2 99.26H623.4M108.3 99.26H112.7M619.2 96.62H623.4M108.3 96.62H112.7M619.2 93.98H623.4M108.3 93.98H112.7M619.2 91.33H626.3M105.3 91.33H112.7M619.2 88.69H623.4M108.3 88.69H112.7M619.2 86.05H623.4M108.3 86.05H112.7M619.2 83.41H623.4M108.3 83.41H112.7M619.2 80.77H623.4M108.3 80.77H112.7M619.2 78.13H626.3M105.3 78.13H112.7M619.2 75.49H623.4M108.3 75.49H112.7M619.2 72.84H623.4M108.3 72.84H112.7M619.2 70.20H623.4M108.3 70.20H112.7M619.2 67.56H623.4M108.3 67.56H112.7M619.2 64.92H626.3M105.3 64.92H112.7M619.2 62.28H623.4M108.3 62.28H112.7M619.2 59.64H623.4M108.3 59.64H112.7M619.2 57.00H623.4M108.3 57.00H112.7M619.2 54.35H623.4M108.3 54.35H112.7M619.2 51.71H626.3M105.3 51.71H112.7M619.2 49.07H623.4M108.3 49.07H112.7M619.2 46.43H623.4M108.3 46.43H112.7M619.2 43.79H623.4M108.3 43.79H112.7M619.2 41.15H623.4M108.3 41.15H112.7M619.2 38.50H626.3M105.3 38.50H112.7" stroke="#000" stroke-width="1.25" fill="none"/>
<text class="a" x="631.6" y="388.20" font-size="15.6" textLength="44.6" lengthAdjust="spacingAndGlyphs">17.5 k</text>
<text class="a" x="631.6" y="374.99" font-size="15.6" textLength="44.6" lengthAdjust="spacingAndGlyphs">18.0 k</text>
<text class="a" x="631.6" y="361.78" font-size="15.6" textLength="44.6" lengthAdjust="spacingAndGlyphs">18.5 k</text>
<text class="a" x="631.6" y="348.58" font-size="15.6" textLength="44.6" lengthAdjust="spacingAndGlyphs">19.0 k</text>
<text class="a" x="631.6" y="335.37" font-size="15.6" textLength="44.6" lengthAdjust="spacingAndGlyphs">19.5 k</text>
<text class="a" x="631.6" y="322.16" font-size="15.6" textLength="44.6" lengthAdjust="spacingAndGlyphs">20.0 k</text>
<text class="a" x="631.6" y="308.95" font-size="15.6" textLength="44.6" lengthAdjust="spacingAndGlyphs">20.5 k</text>
<text class="a" x="631.6" y="295.75" font-size="15.6" textLength="44.6" lengthAdjust="spacingAndGlyphs">21.0 k</text>
<text class="a" x="631.6" y="282.54" font-size="15.6" textLength="44.6" lengthAdjust="spacingAndGlyphs">21.5 k</text>
<text class="a" x="631.6" y="269.33" font-size="15.6" textLength="44.6" lengthAdjust="spacingAndGlyphs">22.0 k</text>
<text class="a" x="631.6" y="256.12" font-size="15.6" textLength="44.6" lengthAdjust="spacingAndGlyphs">22.5 k</text>
<text class="a" x="631.6" y="242.92" font-size="15.6" textLength="44.6" lengthAdjust="spacingAndGlyphs">23.0 k</text>
<text class="a" x="631.6" y="229.71" font-size="15.6" textLength="44.6" lengthAdjust="spacingAndGlyphs">23.5 k</text>
<text class="a" x="631.6" y="216.50" font-size="15.6" textLength="44.6" lengthAdjust="spacingAndGlyphs">24.0 k</text>
<text class="a" x="631.6" y="203.29" font-size="15.6" textLength="44.6" lengthAdjust="spacingAndGlyphs">24.5 k</text>
<text class="a" x="631.6" y="190.09" font-size="15.6" textLength="44.6" lengthAdjust="spacingAndGlyphs">25.0 k</text>
<text class="a" x="631.6" y="176.88" font-size="15.6" textLength="44.6" lengthAdjust="spacingAndGlyphs">25.5 k</text>
<text class="a" x="631.6" y="163.67" font-size="15.6" textLength="44.6" lengthAdjust="spacingAndGlyphs">26.0 k</text>
<text class="a" x="631.6" y="150.47" font-size="15.6" textLength="44.6" lengthAdjust="spacingAndGlyphs">26.5 k</text>
<text class="a" x="631.6" y="137.26" font-size="15.6" textLength="44.6" lengthAdjust="spacingAndGlyphs">27.0 k</text>
<text class="a" x="631.6" y="124.05" font-size="15.6" textLength="44.6" lengthAdjust="spacingAndGlyphs">27.5 k</text>
<text class="a" x="631.6" y="110.84" font-size="15.6" textLength="44.6" lengthAdjust="spacingAndGlyphs">28.0 k</text>
<text class="a" x="631.6" y="97.63" font-size="15.6" textLength="44.6" lengthAdjust="spacingAndGlyphs">28.5 k</text>
<text class="a" x="631.6" y="84.43" font-size="15.6" textLength="44.6" lengthAdjust="spacingAndGlyphs">29.0 k</text>
<text class="a" x="631.6" y="71.22" font-size="15.6" textLength="44.6" lengthAdjust="spacingAndGlyphs">29.5 k</text>
<text class="a" x="631.6" y="58.01" font-size="15.6" textLength="44.6" lengthAdjust="spacingAndGlyphs">30.0 k</text>
<text class="a" x="631.6" y="44.80" font-size="15.6" textLength="44.6" lengthAdjust="spacingAndGlyphs">30.5 k</text>
<text class="a" x="128.90" y="406.6" font-size="15.6" text-anchor="middle" textLength="44.6" lengthAdjust="spacingAndGlyphs">12:00</text>
<text class="a" x="190.03" y="406.6" font-size="15.6" text-anchor="middle" textLength="52.8" lengthAdjust="spacingAndGlyphs">Dec-29</text>
<text class="a" x="251.15" y="406.6" font-size="15.6" text-anchor="middle" textLength="44.6" lengthAdjust="spacingAndGlyphs">12:00</text>
<text class="a" x="312.27" y="406.6" font-size="15.6" text-anchor="middle" textLength="52.8" lengthAdjust="spacingAndGlyphs">Dec-30</text>
<text class="a" x="373.40" y="406.6" font-size="15.6" text-anchor="middle" textLength="44.6" lengthAdjust="spacingAndGlyphs">12:00</text>
<text class="a" x="434.52" y="406.6" font-size="15.6" text-anchor="middle" textLength="52.8" lengthAdjust="spacingAndGlyphs">Dec-31</text>
<text class="a" x="495.65" y="406.6" font-size="15.6" text-anchor="middle" textLength="44.6" lengthAdjust="spacingAndGlyphs">12:00</text>
<text class="a" x="556.77" y="406.6" font-size="15.6" text-anchor="middle" textLength="50" lengthAdjust="spacingAndGlyphs">Jan-01</text>
<text class="a" x="617.90" y="406.6" font-size="15.6" text-anchor="middle" textLength="44.6" lengthAdjust="spacingAndGlyphs">12:00</text>
<path d="M128.90 383V390M190.03 383V390M251.15 383V390M312.27 383V390M373.40 383V390M434.52 383V390M495.65 383V390M556.77 383V390M617.90 383V390" stroke="#000" stroke-width="1.25" fill="none"/>
<text class="a" x="366" y="425.4" font-size="15.6" text-anchor="middle" textLength="40.9" lengthAdjust="spacingAndGlyphs">Date</text>
<text class="a" x="571.4" y="425.4" font-size="15.6" text-anchor="middle" textLength="91.8" lengthAdjust="spacingAndGlyphs">2021-Jan-01</text>
<text class="a" x="366.3" y="17" font-size="16.5" text-anchor="middle" textLength="87.4" lengthAdjust="spacingAndGlyphs">BTC_USDT</text>
<rect x="87.6" y="40.7" width="6.5" height="339.70" fill="url(#hot)"/>
<path d="M81.4 381.70H86.4M81.4 281.27H86.4M81.4 210.01H86.4M81.4 154.73H86.4M81.4 109.57H86.4M81.4 71.39H86.4M81.4 38.31H86.4" stroke="#000" stroke-width="1.25" fill="none"/>
<text class="a" x="24" y="387.90" font-size="15.6" textLength="47.6" lengthAdjust="spacingAndGlyphs">2 × 10</text>
<text class="a" x="71.9" y="381.80" font-size="10.8">6</text>
<text class="a" x="24" y="287.47" font-size="15.6" textLength="47.6" lengthAdjust="spacingAndGlyphs">3 × 10</text>
<text class="a" x="71.9" y="281.37" font-size="10.8">6</text>
<text class="a" x="24" y="216.21" font-size="15.6" textLength="47.6" lengthAdjust="spacingAndGlyphs">4 × 10</text>
<text class="a" x="71.9" y="210.11" font-size="10.8">6</text>
<text class="a" x="24" y="115.77" font-size="15.6" textLength="47.6" lengthAdjust="spacingAndGlyphs">6 × 10</text>
<text class="a" x="71.9" y="109.67" font-size="10.8">6</text>
<text class="a" transform="translate(16.6 210.6) rotate(-90)" font-size="15.6" text-anchor="middle" textLength="126.7" lengthAdjust="spacingAndGlyphs">Volume [USDT]</text>
<text class="a" transform="translate(691.6 210) rotate(-90)" font-size="15.6" text-anchor="middle" textLength="103" lengthAdjust="spacingAndGlyphs">Price [USDT]</text>
</svg></body></html>
